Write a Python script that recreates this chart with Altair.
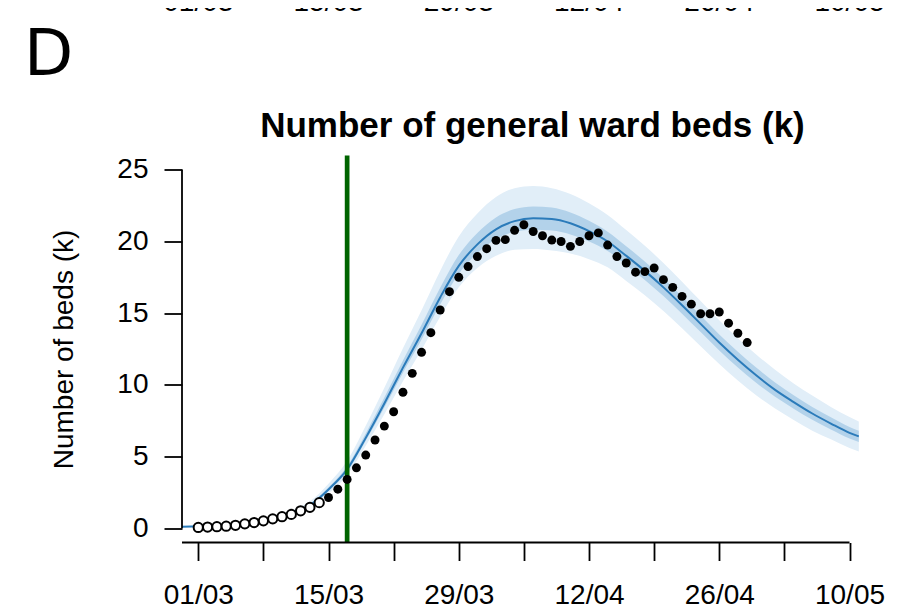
import altair as alt
import pandas as pd

# ---- data ----
tick_days = [0, 7, 14, 21, 28, 35, 42, 49, 56, 63, 70]
label_days = [0, 14, 28, 42, 56, 70]
tick_labels = ["01/03", "15/03", "29/03", "12/04", "26/04", "10/05"]
lockdown_day = 16
y_ticks = [0, 5, 10, 15, 20, 25]
title_text = "Number of general ward beds (k)"
y_title = "Number of beds (k)"
panel_letter = "D"

model_days = [-2, 0, 2, 4, 6, 8, 10, 12, 14, 16, 18, 20, 22, 24, 26, 28, 30, 32, 34,
              36, 38, 40, 42, 44, 46, 48, 50, 52, 54, 56, 58, 60, 62, 64, 66, 68, 70, 71]
median = [0.1, 0.13, 0.2, 0.3, 0.45, 0.7, 1.05, 1.6, 2.7, 4.1, 6.3, 8.7, 11.2, 13.6, 16.1,
          18.3, 19.8, 20.85, 21.42, 21.62, 21.57, 21.27, 20.72, 20.0, 19.0, 17.95, 16.8,
          15.55, 14.25, 12.95, 11.75, 10.65, 9.65, 8.8, 8.0, 7.3, 6.65, 6.4]
hi95 = [0.14, 0.18, 0.26, 0.38, 0.55, 0.83, 1.23, 1.87, 3.1, 4.7, 7.15, 9.8, 12.55, 15.2,
        17.95, 20.35, 21.95, 23.1, 23.72, 23.87, 23.72, 23.32, 22.67, 21.85, 20.8, 19.7,
        18.5, 17.2, 15.85, 14.5, 13.25, 12.1, 11.05, 10.1, 9.25, 8.45, 7.75, 7.45]
lo95 = [0.06, 0.08, 0.15, 0.24, 0.37, 0.6, 0.92, 1.42, 2.43, 3.7, 5.75, 7.95, 10.25, 12.45,
        14.75, 16.8, 18.15, 19.0, 19.42, 19.47, 19.37, 19.17, 18.77, 18.2, 17.25, 16.25,
        15.15, 13.95, 12.7, 11.45, 10.3, 9.25, 8.35, 7.55, 6.8, 6.2, 5.6, 5.35]
hi50 = [0.115, 0.15, 0.22, 0.33, 0.49, 0.75, 1.12, 1.7, 2.85, 4.32, 6.61, 9.11, 11.7, 14.19,
        16.78, 19.06, 20.6, 21.68, 22.27, 22.45, 22.37, 22.03, 21.44, 20.68, 19.67, 18.6,
        17.43, 16.16, 14.84, 13.52, 12.31, 11.19, 10.17, 9.28, 8.46, 7.73, 7.06, 6.79]
lo50 = [0.085, 0.11, 0.18, 0.28, 0.42, 0.66, 1.0, 1.53, 2.6, 3.95, 6.1, 8.42, 10.85, 13.17,
        15.6, 17.75, 19.19, 20.17, 20.68, 20.82, 20.76, 20.49, 20.0, 19.33, 18.35, 17.32,
        16.19, 14.96, 13.68, 12.4, 11.21, 10.13, 9.17, 8.34, 7.56, 6.89, 6.26, 6.01]

obs_days = list(range(60))
obs_beds = [0.05, 0.08, 0.1, 0.14, 0.2, 0.3, 0.39, 0.51, 0.65, 0.8, 0.96, 1.21, 1.45, 1.78,
            2.14, 2.72, 3.4, 4.21, 5.1, 6.15, 7.12, 8.12, 9.48, 10.8, 12.27, 13.64, 15.22,
            16.5, 17.5, 18.25, 18.95, 19.5, 20.08, 20.13, 20.78, 21.17, 20.7, 20.4, 20.1,
            20.0, 19.66, 20.0, 20.4, 20.6, 19.75, 18.95, 18.5, 17.86, 17.9, 18.15, 17.34,
            16.8, 16.17, 15.63, 14.96, 14.96, 15.08, 14.3, 13.6, 12.95]
first_filled_day = 14

# ---- frames ----
model = pd.DataFrame({"day": model_days, "med": median, "lo95": lo95, "hi95": hi95,
                      "lo50": lo50, "hi50": hi50})
obs = pd.DataFrame({"day": obs_days, "beds": obs_beds})
obs_open = obs[obs["day"] < first_filled_day]
obs_fill = obs[obs["day"] >= first_filled_day]
top_labels = pd.DataFrame({"day": label_days, "label": tick_labels})

W, H = 701, 387
FONT = "Liberation Sans"
xscale = alt.Scale(domain=[-1.75, 73.6], nice=False, zero=False)
yscale = alt.Scale(domain=[-1, 26], nice=False, zero=False)

label_expr = ""
for d, t in zip(label_days, tick_labels):
    label_expr += "datum.value == %d ? '%s' : " % (d, t)
label_expr += "''"

x_axis = alt.Axis(values=tick_days, labelExpr=label_expr,
                  tickSize=18, tickWidth=1.8, tickColor="black", domain=False, grid=False,
                  labelFontSize=28, labelFont=FONT, labelColor="black", labelPadding=21,
                  labelOverlap=False, labelFlush=False, title=None)
y_axis = alt.Axis(values=y_ticks, tickSize=18, tickWidth=1.8, tickColor="black",
                  domain=False, grid=False, labelFontSize=28, labelFont=FONT,
                  labelColor="black", labelPadding=16, labelOverlap=False,
                  labelFlush=False,
                  title=y_title, titleFontSize=28, titleFont=FONT,
                  titleFontWeight="normal", titleColor="black", titlePadding=38)

X = alt.X("day:Q", scale=xscale, axis=x_axis)
Y = lambda f: alt.Y(f, scale=yscale, axis=y_axis)

base = alt.Chart(model)
outer = base.mark_area(color="#e1eef8", interpolate="monotone", clip=True).encode(
    x=X, y=Y("lo95:Q"), y2="hi95:Q")
inner = base.mark_area(color="#b3d2ea", interpolate="monotone", clip=True).encode(
    x=X, y=Y("lo50:Q"), y2="hi50:Q")
line = base.mark_line(color="#2b7bba", strokeWidth=2, interpolate="monotone", clip=True).encode(
    x=X, y=Y("med:Q"))

green = alt.Chart(pd.DataFrame({"day": [lockdown_day]})).mark_rule(
    color="#006400", strokeWidth=4.7).encode(x=X, y=alt.value(0), y2=alt.value(H))

open_pts = alt.Chart(obs_open).mark_point(
    shape="circle", filled=False, fill="white", fillOpacity=1, stroke="black",
    strokeWidth=2, size=85, opacity=1).encode(x=X, y=Y("beds:Q"))
fill_pts = alt.Chart(obs_fill).mark_circle(color="black", size=80, opacity=1).encode(
    x=X, y=Y("beds:Q"))

x_line = alt.Chart(pd.DataFrame({"day": [-1.75], "b": [tick_days[-1]]})).mark_rule(
    color="black", strokeWidth=1.8).encode(x=X, x2="b:Q", y=alt.value(H))
y_line = alt.Chart(pd.DataFrame({"beds": [y_ticks[0]], "b": [y_ticks[-1]]})).mark_rule(
    color="black", strokeWidth=1.8).encode(y=Y("beds:Q"), y2="b:Q", x=alt.value(0))

top_txt = alt.Chart(top_labels).mark_text(
    fontSize=28, font=FONT, color="black", baseline="alphabetic", align="center").encode(
    x=X, y=alt.value(-144.5), text="label:N")

panel = alt.Chart(pd.DataFrame({"t": [panel_letter]})).mark_text(
    fontSize=64, font="DejaVu Sans", color="black", baseline="alphabetic",
    align="left").encode(x=alt.value(-158), y=alt.value(-80.5), text="t:N")

title_mark = alt.Chart(pd.DataFrame({"t": [title_text]})).mark_text(
    fontSize=35, font=FONT, fontWeight="bold", color="black", baseline="alphabetic",
    align="center").encode(x=alt.value(W / 2), y=alt.value(-18.5), text="t:N")

chart = alt.layer(outer, inner, line, green, open_pts, fill_pts, x_line, y_line,
                  top_txt, panel, title_mark).properties(
    width=W, height=H,
    padding={"left": 174, "top": 147.5, "right": 11, "bottom": 70},
    autosize=alt.AutoSizeParams(type="none"),
).configure_view(stroke=None)

chart.save("out.html", embed_options={"renderer": "svg", "actions": False})
